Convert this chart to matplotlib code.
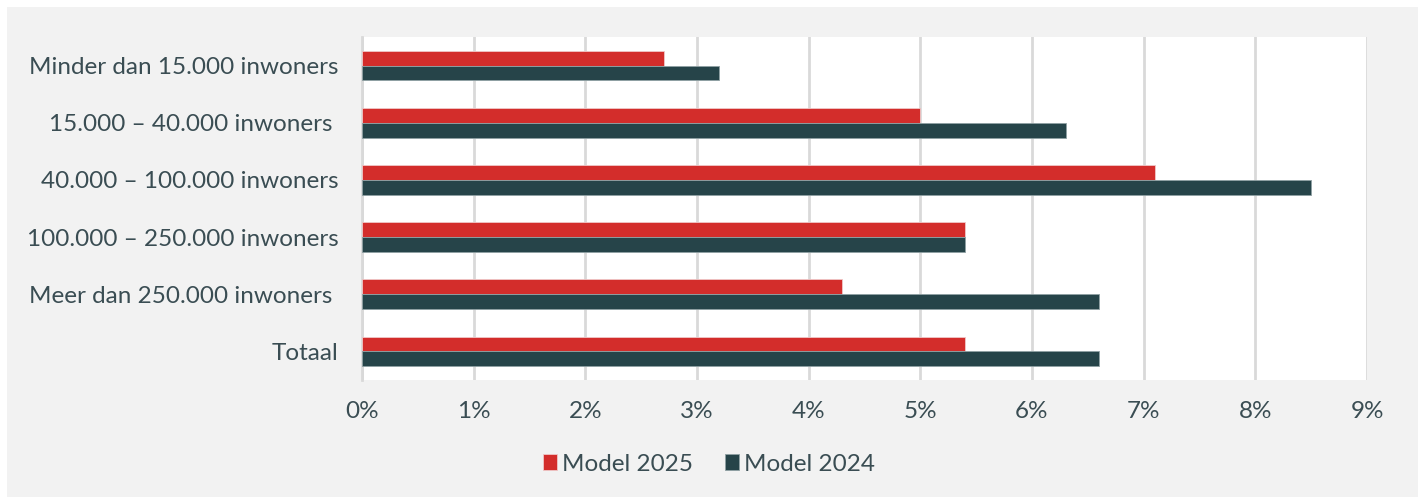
import numpy as np
import matplotlib
matplotlib.use("Agg")
import matplotlib.pyplot as plt
from matplotlib.patches import Rectangle
from matplotlib.ticker import FuncFormatter

categories = ["Minder dan 15.000 inwoners", "15.000 – 40.000 inwoners ", "40.000 – 100.000 inwoners",
              "100.000 – 250.000 inwoners", "Meer dan 250.000 inwoners ", "Totaal"]
model_2025 = [2.7, 5.0, 7.1, 5.4, 4.3, 5.4]
model_2024 = [3.2, 6.3, 8.5, 5.4, 6.6, 6.6]
xticks = list(range(10))

RED = "#d32d2b"; DARK = "#264449"; TXT = "#3a4d53"; BG = "#f2f2f2"
plt.rcParams["font.family"] = ["Lato", "DejaVu Sans"]

fig = plt.figure(figsize=(14.18, 4.97), dpi=100, facecolor="white")
fig.patches.append(Rectangle((7/1418, 0), 1, 1 - 7/497, transform=fig.transFigure,
                             facecolor=BG, edgecolor="none", zorder=-10))
ax = fig.add_axes([362/1418, 1 - 380/497, (1367-362)/1418, (380-37)/497])
ax.set_facecolor("white")

y = np.arange(len(categories))
h = 0.26
ax.barh(y - h/2, model_2025, height=h, color=RED, edgecolor="#f0c8c8", linewidth=0.6, label="Model 2025", zorder=3)
ax.barh(y + h/2, model_2024, height=h, color=DARK, edgecolor="#8fa0a3", linewidth=0.6, label="Model 2024", zorder=3)

ax.set_ylim(len(categories) - 0.5, -0.5)
ax.set_xlim(0, 9)
ax.set_xticks(xticks)
ax.xaxis.set_major_formatter(FuncFormatter(lambda v, p: f"{v:.0f}%"))
ax.set_yticks(y)
ax.set_yticklabels(categories)
ax.grid(axis="x", color="#d9d9d9", linewidth=2, zorder=0)
ax.tick_params(length=0, labelsize=17.5, colors=TXT)
ax.tick_params(axis="x", pad=15)
ax.tick_params(axis="y", pad=17)
for s in ("top", "right", "bottom"):
    ax.spines[s].set_visible(False)
ax.spines["left"].set_color("#d9d9d9"); ax.spines["left"].set_linewidth(2)

ax.legend(loc="center", bbox_to_anchor=(0.5 * (1418 / (1367-362)) - 362/(1367-362), -0.245),
          ncol=2, frameon=False, fontsize=17.5, labelcolor=TXT, handlelength=0.6, handleheight=0.6,
          handletextpad=0.2, columnspacing=1.3)

fig.savefig("out.png", dpi=100, facecolor=fig.get_facecolor())
